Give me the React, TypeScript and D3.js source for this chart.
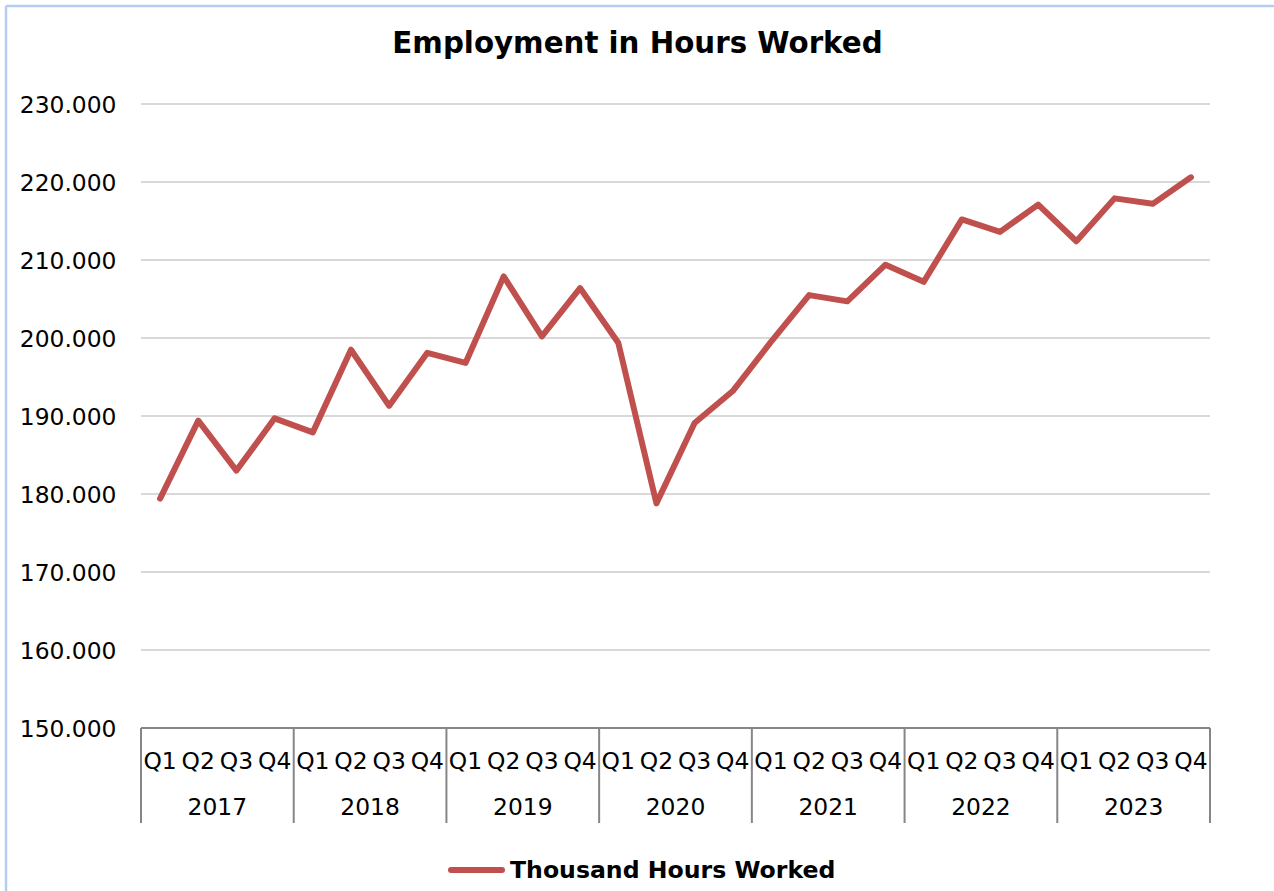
import React from 'react';
import * as d3 from 'd3';

const years = ['2017', '2018', '2019', '2020', '2021', '2022', '2023'];
const quarters = ['Q1', 'Q2', 'Q3', 'Q4'];
const hoursWorked = [
  179.4, 189.4, 183.0, 189.7,
  187.9, 198.5, 191.3, 198.1,
  196.8, 207.9, 200.2, 206.4,
  199.4, 178.8, 189.1, 193.2,
  199.5, 205.5, 204.7, 209.4,
  207.2, 215.2, 213.6, 217.1,
  212.4, 217.9, 217.2, 220.6,
];
const yTicks = [150, 160, 170, 180, 190, 200, 210, 220, 230];
const yTickLabels = ['150.000', '160.000', '170.000', '180.000', '190.000', '200.000', '210.000', '220.000', '230.000'];
const title = 'Employment in Hours Worked';
const seriesName = 'Thousand Hours Worked';

const W = 1274;
const H = 891;
const LEFT = 141;
const RIGHT = 1210;
const TOP = 104;
const BOTTOM = 728;
const FONT = '"DejaVu Sans", Verdana, sans-serif';
const RED = '#c0504d';

export default function App() {
  const cats = years.flatMap((y) => quarters.map((q) => `${y}-${q}`));
  const x = d3.scaleBand<string>().domain(cats).range([LEFT, RIGHT]).paddingInner(0).paddingOuter(0);
  const bw = x.bandwidth();
  const y = d3.scaleLinear().domain([150, 230]).range([BOTTOM, TOP]);
  const line = d3
    .line<number>()
    .x((_, i) => (x(cats[i]) as number) + bw / 2)
    .y((d) => y(d));
  const groupW = bw * quarters.length;

  return (
    <svg width={W} height={H} style={{ position: 'absolute', left: 0, top: 0, background: '#fff' }} fontFamily={FONT}>
      <rect x={0} y={0} width={W} height={H} fill="#fff" />
      <line x1={6} y1={6} x2={W} y2={6} stroke="#b4cdf0" strokeWidth={2.5} />
      <line x1={6} y1={6} x2={6} y2={H} stroke="#b4cdf0" strokeWidth={2.5} />
      <text x={637.5} y={53} textAnchor="middle" fontSize={29.3} fontWeight="bold" fill="#000">
        {title}
      </text>
      {yTicks.map((t, i) => (
        <g key={t}>
          {i > 0 && <line x1={LEFT} x2={RIGHT} y1={y(t)} y2={y(t)} stroke="#d9d9d9" strokeWidth={2} />}
          <text x={116.5} y={y(t) + 8.5} textAnchor="end" fontSize={23.4} fill="#000">
            {yTickLabels[i]}
          </text>
        </g>
      ))}
      <line x1={LEFT} x2={RIGHT} y1={BOTTOM} y2={BOTTOM} stroke="#868686" strokeWidth={2} />
      {d3.range(years.length + 1).map((i) => (
        <line
          key={`v${i}`}
          x1={LEFT + i * groupW}
          x2={LEFT + i * groupW}
          y1={BOTTOM}
          y2={823}
          stroke="#868686"
          strokeWidth={2}
        />
      ))}
      {cats.map((c, i) => (
        <text key={c} x={(x(c) as number) + bw / 2} y={769} textAnchor="middle" fontSize={23.4} fill="#000">
          {quarters[i % 4]}
        </text>
      ))}
      {years.map((yr, i) => (
        <text key={yr} x={LEFT + (i + 0.5) * groupW} y={815} textAnchor="middle" fontSize={23.4} fill="#000">
          {yr}
        </text>
      ))}
      <path
        d={line(hoursWorked) || ''}
        fill="none"
        stroke={RED}
        strokeWidth={6}
        strokeLinejoin="round"
        strokeLinecap="round"
      />
      <line x1={451} x2={502} y1={870} y2={870} stroke={RED} strokeWidth={6} strokeLinecap="round" />
      <text x={510} y={877.5} fontSize={23.6} fontWeight="bold" fill="#000">
        {seriesName}
      </text>
    </svg>
  );
}
